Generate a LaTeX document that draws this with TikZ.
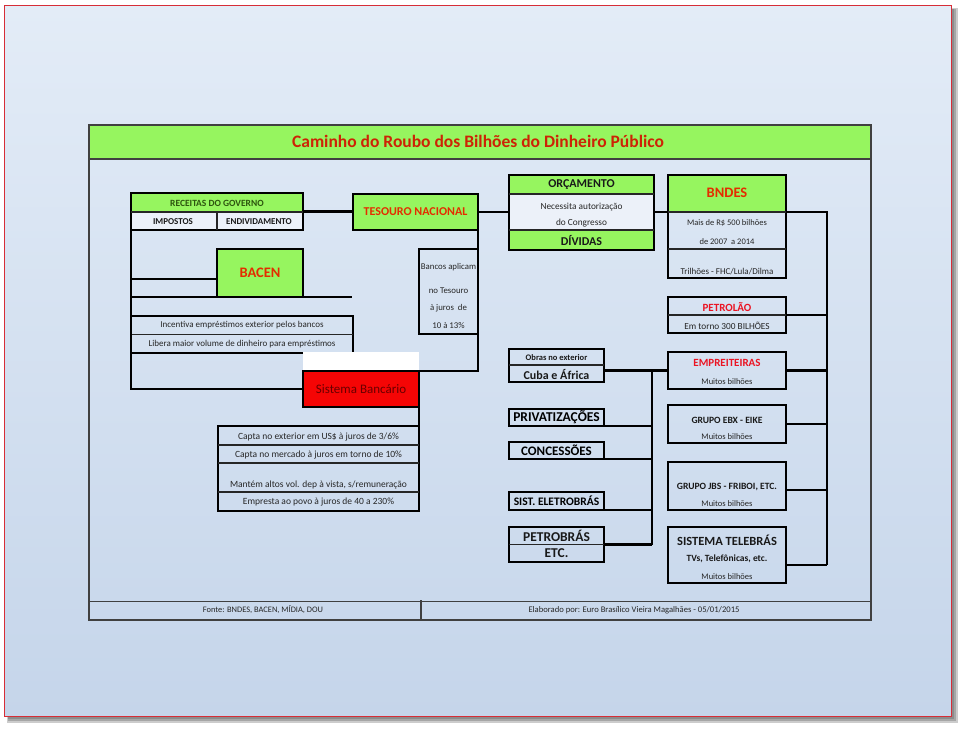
\documentclass[tikz,border=0pt]{standalone}
\usepackage{fontspec}
\setmainfont{Carlito}
\usetikzlibrary{calc}
\definecolor{lgreen}{RGB}{150,245,95}
\definecolor{bgtop}{RGB}{227,236,247}
\definecolor{bgbot}{RGB}{197,213,234}
\definecolor{titred}{RGB}{205,35,5}
\definecolor{orred}{RGB}{228,45,0}
\definecolor{brred}{RGB}{235,20,35}
\definecolor{dkred}{RGB}{105,0,0}
\definecolor{sisred}{RGB}{245,5,5}
\definecolor{dkgreen}{RGB}{45,85,15}
\definecolor{frred}{RGB}{215,45,55}
\definecolor{cellw}{RGB}{236,241,249}
\newcommand{\fs}[1]{\fontsize{#1}{#1}\selectfont}
\begin{document}
\begin{tikzpicture}[x=1pt,y=-1pt,
  box/.style={draw=black,line width=2.2pt,rectangle,inner sep=0pt,outer sep=0pt,anchor=north west},
  conn/.style={draw=black,line width=2.2pt},
  divl/.style={draw=black!85,line width=1.2pt},
  tx/.style={inner sep=0pt,text=black!85,font=\fs{9}},
  txb/.style={inner sep=0pt,text=black!90,font=\bfseries\fs{9}},
  topband/.style={path picture={\fill[lgreen] (path picture bounding box.north west) rectangle ([yshift=-#1]path picture bounding box.north east);}},
  twoband/.style 2 args={path picture={\fill[lgreen] (path picture bounding box.north west) rectangle ([yshift=-#1]path picture bounding box.north east);
     \fill[lgreen] (path picture bounding box.south west) rectangle ([yshift=#2]path picture bounding box.south east);}}
]
\useasboundingbox (0,0) rectangle (960,728);
\fill[white] (0,0) rectangle (960,728);
% slide shadow and frame
\fill[black!20] (7,8) rectangle (958,723);
\fill[black!35] (8,9) rectangle (956,721);
\fill[black!45] (8,9) rectangle (954,719);
\node[draw=frred,line width=1pt,top color=bgtop,bottom color=bgbot,minimum width=947pt,minimum height=711pt,anchor=north west,inner sep=0pt] (slide) at (4,5) {};
% table
\node[draw=black!75,line width=1.5pt,minimum width=782pt,minimum height=495pt,anchor=north west,inner sep=0pt] (table) at (88,124) {};
\node[draw=black!75,line width=1.5pt,fill=lgreen,minimum width=782pt,minimum height=34pt,anchor=north west,inner sep=0pt] (titleband) at (88,124) {};
\node[inner sep=0pt,text=titred,font=\bfseries\fs{17.5}] (title) at (478,141) {Caminho do Roubo dos Bilhões do Dinheiro Público};
\draw[draw=black!75,line width=1.5pt] ([yshift=19pt]table.south west) -- ([yshift=19pt]table.south east);
\coordinate (fdiv) at (421,600);
\draw[draw=black!75,line width=1.2pt] (fdiv) -- (fdiv |- table.south);
\node[tx,font=\fs{8.4}] (fonte) at (263,610) {Fonte: BNDES, BACEN, MÍDIA, DOU};
\node[tx,font=\fs{8.6}] (elab) at (634,610) {Elaborado por: Euro Brasílico Vieira Magalhães - 05/01/2015};

% ---------- left part
\node[box,fill=cellw,topband=19pt,minimum width=172pt,minimum height=37pt] (rec) at (131,193) {};
\draw[divl] ([yshift=-19pt]rec.north west) -- ([yshift=-19pt]rec.north east);
\coordinate (recdiv) at (217,212);
\draw[divl] (recdiv) -- (recdiv |- rec.south);
\node[txb,text=dkgreen,font=\bfseries\fs{9.5}] (recT) at (217,203) {RECEITAS DO GOVERNO};
\node[txb,font=\bfseries\fs{9}] (imp) at (173,221.5) {IMPOSTOS};
\node[txb,font=\bfseries\fs{9}] (endiv) at (259,221.5) {ENDIVIDAMENTO};

\node[box,fill=lgreen,minimum width=125pt,minimum height=36pt,text=orred,font=\bfseries\fs{12}] (tes) at (353,194) {TESOURO NACIONAL};
\node[box,fill=lgreen,minimum width=86pt,minimum height=48pt,text=orred,font=\bfseries\fs{14.5}] (bacen) at (217,249) {BACEN};

\node[box,minimum width=222pt,minimum height=37pt] (inc) at (131,316) {};
\draw[divl] (inc.west) -- (inc.east);
\node[tx] (incT1) at (242,325.5) {Incentiva empréstimos exterior pelos bancos};
\node[tx] (incT2) at (242,344) {Libera maior volume de dinheiro para empréstimos};

\node[box,minimum width=59pt,minimum height=85pt] (banc) at (419,249) {};
\node[tx,font=\fs{8.8}] (bancT1) at (448.5,267) {Bancos aplicam};
\node[tx,font=\fs{8.8}] (bancT2) at (448.5,291) {no Tesouro};
\node[tx,font=\fs{8.8}] (bancT3) at (448.5,308) {à juros\ \ de};
\node[tx,font=\fs{8.8}] (bancT4) at (448.5,326) {10 à 13\%};

\node[fill=white,inner sep=0pt,minimum width=116pt,minimum height=19pt,anchor=north west] (patch) at (303,352) {};
\node[box,fill=sisred,minimum width=116pt,minimum height=36pt,text=dkred,font=\fs{13}] (sis) at (303,371) {Sistema Bancário};

\node[box,minimum width=201pt,minimum height=85pt] (capta) at (218,426) {};
\coordinate (cl1) at (218,445);
\coordinate (cl2) at (218,463);
\coordinate (cl3) at (218,492);
\draw[divl] (cl1) -- (cl1 -| capta.east);
\draw[divl] (cl2) -- (cl2 -| capta.east);
\draw[divl] (cl3) -- (cl3 -| capta.east);
\node[tx,font=\fs{9.5}] (capT1) at (318.5,437) {Capta no exterior em US\$ à juros de 3/6\%};
\node[tx,font=\fs{9.5}] (capT2) at (318.5,455) {Capta no mercado à juros em torno de 10\%};
\node[tx,font=\fs{9.5}] (capT3) at (318.5,485) {Mantém altos vol. dep à vista, s/remuneração};
\node[tx,font=\fs{9.5}] (capT4) at (318.5,502.5) {Empresta ao povo à juros de 40 a 230\%};

% ---------- centre
\node[box,fill=cellw,twoband={19pt}{20pt},minimum width=145pt,minimum height=75pt] (orc) at (509,175) {};
\draw[divl] ([yshift=-19pt]orc.north west) -- ([yshift=-19pt]orc.north east);
\draw[divl] ([yshift=20pt]orc.south west) -- ([yshift=20pt]orc.south east);
\node[txb,font=\bfseries\fs{12}] (orcT) at (581.5,185) {ORÇAMENTO};
\node[tx,font=\fs{9.3}] (orcT2) at (581.5,207) {Necessita autorização};
\node[tx,font=\fs{9.3}] (orcT3) at (581.5,223) {do Congresso};
\node[txb,font=\bfseries\fs{12}] (divT) at (581.5,240.5) {DÍVIDAS};

\node[box,minimum width=95pt,minimum height=33pt] (obras) at (509,349) {};
\draw[divl] ([yshift=-16pt]obras.north west) -- ([yshift=-16pt]obras.north east);
\node[txb,font=\bfseries\fs{8.5}] (obrasT) at (556.5,357.5) {Obras no exterior};
\node[txb,font=\bfseries\fs{12}] (cubaT) at (556.5,374) {Cuba e África};
\node[box,minimum width=95pt,minimum height=17pt,font=\bfseries\fs{13.5}] (priv) at (509,409) {PRIVATIZAÇÕES};
\node[box,minimum width=95pt,minimum height=17pt,font=\bfseries\fs{13}] (conc) at (509,442) {CONCESSÕES};
\node[box,minimum width=95pt,minimum height=18pt,font=\bfseries\fs{11.5}] (elet) at (509,492) {SIST. ELETROBRÁS};
\node[box,minimum width=95pt,minimum height=35pt] (petro) at (509,527) {};
\draw[divl] (petro.west) -- (petro.east);
\node[txb,font=\bfseries\fs{13.5}] (petroT) at (556.5,535.5) {PETROBRÁS};
\node[txb,font=\bfseries\fs{13.5}] (etcT) at (556.5,553) {ETC.};

% ---------- right
\node[box,topband=37pt,minimum width=118pt,minimum height=103pt] (bndes) at (668,175) {};
\draw[divl] ([yshift=-37pt]bndes.north west) -- ([yshift=-37pt]bndes.north east);
\draw[divl] ([yshift=-74pt]bndes.north west) -- ([yshift=-74pt]bndes.north east);
\node[txb,text=orred,font=\bfseries\fs{14.5}] (bndesT) at (727,193) {BNDES};
\node[tx,font=\fs{8.5}] (bndesT2) at (727,223) {Mais de R\$ 500 bilhões};
\node[tx,font=\fs{8.5}] (bndesT3) at (727,242) {de 2007\ \ a 2014};
\node[tx] (bndesT4) at (727,272) {Trilhões - FHC/Lula/Dilma};

\node[box,minimum width=118pt,minimum height=36pt] (petrolao) at (668,297) {};
\draw[divl] (petrolao.west) -- (petrolao.east);
\node[txb,text=brred,font=\bfseries\fs{11}] (petrolaoT) at (727,307) {PETROLÃO};
\node[tx,font=\fs{9.3}] (petrolaoT2) at (727,325.5) {Em torno 300 BILHÕES};

\node[box,minimum width=118pt,minimum height=37pt] (emp) at (668,352) {};
\node[txb,text=brred,font=\bfseries\fs{11}] (empT) at (727,363) {EMPREITEIRAS};
\node[tx,font=\fs{8.5}] (empT2) at (727,382) {Muitos bilhões};

\node[box,minimum width=118pt,minimum height=38pt] (ebx) at (668,405) {};
\node[txb,font=\bfseries\fs{9.6}] (ebxT) at (727,420) {GRUPO EBX - EIKE};
\node[tx,font=\fs{8.5}] (ebxT2) at (727,437) {Muitos bilhões};

\node[box,minimum width=118pt,minimum height=48pt] (jbs) at (668,462) {};
\node[txb,font=\bfseries\fs{9.6}] (jbsT) at (727,487) {GRUPO JBS - FRIBOI, ETC.};
\node[tx,font=\fs{8.5}] (jbsT2) at (727,504) {Muitos bilhões};

\node[box,minimum width=118pt,minimum height=56pt] (tel) at (668,527) {};
\node[txb,font=\bfseries\fs{12.5}] (telT) at (727,540) {SISTEMA TELEBRÁS};
\node[txb,font=\bfseries\fs{9.5}] (telT2) at (727,558.5) {TVs, Telefônicas, etc.};
\node[tx,font=\fs{8.5}] (telT3) at (727,577) {Muitos bilhões};

% ---------- connectors
\draw[conn] (rec.east) -- (rec.east -| tes.west);
\draw[conn] (rec.south west) |- (sis.west);
\draw[conn] (rec.south west |- bacen.west) ++(0,6) -- ([yshift=-6pt]bacen.west);
\coordinate (bacenR) at (352,297);
\draw[conn] (rec.south west |- bacen.south) -- (bacenR);
\draw[conn] (tes.south east) |- (sis.north east);
\draw[conn] (sis.south east) -- (capta.north east);
\draw[conn] (tes.east) -- (tes.east -| orc.west);
\draw[conn] (tes.east -| orc.east) -- (tes.east -| bndes.west);
\coordinate (rbTop) at (827,212);
\coordinate (rbBot) at (827,565);
\draw[conn] (tes.east -| bndes.east) -- (rbTop) -- (rbBot);
\draw[conn] (petrolao.east) -- (petrolao.east -| rbTop);
\draw[conn] (emp.east) -- (emp.east -| rbTop);
\draw[conn] (ebx.east) -- (ebx.east -| rbTop);
\draw[conn] ([yshift=-4pt]jbs.east) -- ([yshift=-4pt]jbs.east -| rbTop);
\draw[conn] (rbBot -| tel.east) -- (rbBot);
\coordinate (lbTop) at (652,370.5);
\coordinate (lbBot) at (652,545);
\draw[conn] (emp.west) -- (emp.west -| obras.east);
\draw[conn] (lbTop) -- (lbBot);
\draw[conn] (priv.south east) -- (priv.south east -| lbTop);
\draw[conn] (conc.south east) -- (conc.south east -| lbTop);
\draw[conn] (elet.south east) -- (elet.south east -| lbTop);
\draw[conn] (petro.east) -- (petro.east -| lbTop);
\end{tikzpicture}
\end{document}
